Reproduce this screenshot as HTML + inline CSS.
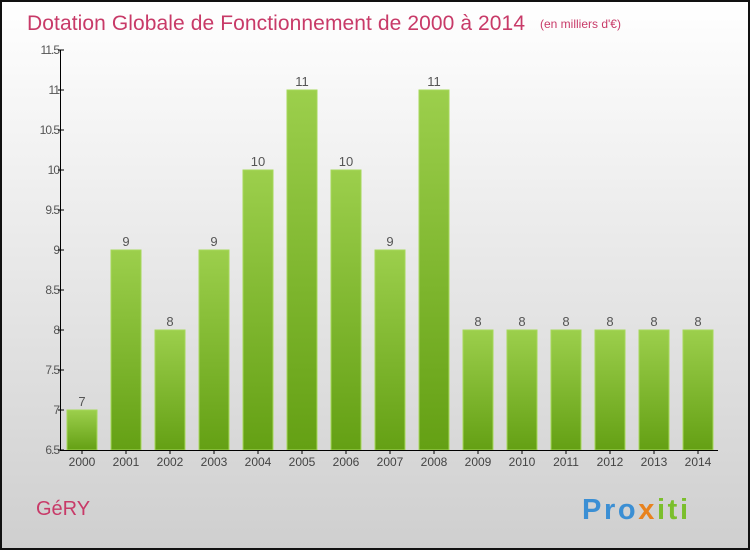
<!DOCTYPE html>
<html><head><meta charset="utf-8"><style>
body{margin:0;}
#wrap{position:relative;width:750px;height:550px;box-sizing:border-box;border:2px solid #111;background:linear-gradient(#ffffff,#cfcfcf);font-family:"Liberation Sans",sans-serif;overflow:hidden}
</style></head><body>
<div id="wrap">
<svg id="chart" width="746" height="546" style="position:absolute;left:0;top:0">
<defs><linearGradient id="g" x1="0" y1="0" x2="0" y2="1"><stop offset="0" stop-color="#9ccf4c"/><stop offset="1" stop-color="#64a014"/></linearGradient></defs>
<text x="25" y="28" font-size="21" fill="#c83a68" textLength="498">Dotation Globale de Fonctionnement de 2000 à 2014</text>
<text x="538" y="26" font-size="12" fill="#c83a68">(en milliers d'€)</text>
<text x="34" y="513" font-size="20" fill="#c83a68">GéRY</text>
<text x="580" y="517" font-size="29" font-weight="bold" fill="#3b8fd4" textLength="106">Pro<tspan fill="#e8821e">x</tspan><tspan fill="#7bbf2c">iti</tspan></text>
<g id="plot"></g>
</svg>
</div>
<script>
const years=["2000","2001","2002","2003","2004","2005","2006","2007","2008","2009","2010","2011","2012","2013","2014"];
const values=[7,9,8,9,10,11,10,9,11,8,8,8,8,8,8];
const yTicks=[6.5,7,7.5,8,8.5,9,9.5,10,10.5,11,11.5];
const ns="http://www.w3.org/2000/svg";
const g=document.getElementById('plot');
const y=v=>448-(v-6.5)*80;
const x=i=>80+44*i;
function mk(t,a){const e=document.createElementNS(ns,t);for(const k in a)e.setAttribute(k,a[k]);g.appendChild(e);return e;}
years.forEach((yr,i)=>{
 const r=mk('rect',{x:x(i)-15,y:y(values[i]),width:30,height:448-y(values[i]),fill:'url(#g)',stroke:'#a6d85a','stroke-width':1});
 
 
 const t=mk('text',{x:x(i),y:y(values[i])-4,'font-size':13,fill:'#555','text-anchor':'middle'});t.textContent=values[i];
 
 
 const l=mk('text',{x:x(i),y:464,'font-size':12,fill:'#444','text-anchor':'middle'});l.textContent=yr;
 
 
 const tk=mk('line',{x1:x(i),x2:x(i),y1:448,y2:452,stroke:'#000'});
 
 
});
yTicks.forEach(v=>{
 const t=mk('text',{x:57,y:y(v)+4,'font-size':12,fill:'#555','text-anchor':'end','letter-spacing':'-1'});t.textContent=v;
 
 
 const l=mk('line',{x1:56,x2:62,y1:y(v),y2:y(v),stroke:'#000'});
 
 
});
const ya=mk('line',{x1:58.5,x2:58.5,y1:y(11.5),y2:448,stroke:'#000'});


const xa=mk('line',{x1:58,x2:716,y1:448.5,y2:448.5,stroke:'#000'});


</script>
</body></html>
